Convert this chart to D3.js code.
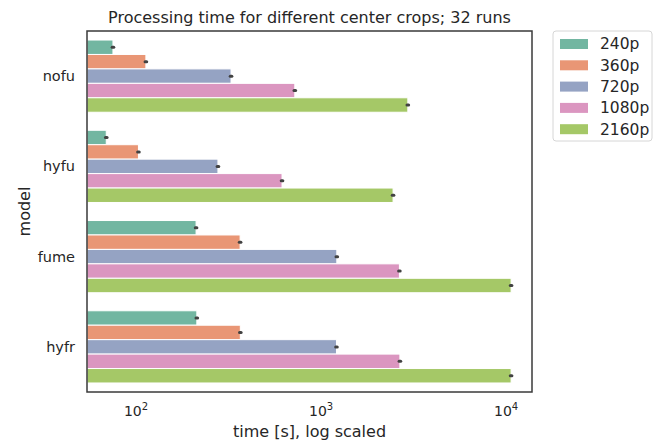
<!DOCTYPE html>
<html>
<head>
<meta charset="utf-8">
<script src="https://cdn.jsdelivr.net/npm/d3@7"></script>
<style>
  body { margin: 0; background: #fff; }
  text { font-family: "DejaVu Sans", sans-serif; fill: #262626; }
</style>
</head>
<body>
<svg id="chart" width="664" height="441"></svg>
<script>
// categories + series
var models = ["nofu", "hyfu", "fume", "hyfr"];
var crops = ["240p", "360p", "720p", "1080p", "2160p"];
var colors = ["#72b6a1", "#e99675", "#95a3c3", "#db96c0", "#a5c867"];

// mean time [s] per model, one array per crop
var t240  = [75, 69, 211, 213];
var t360  = [113, 103, 365, 366];
var t720  = [326, 277, 1216, 1211];
var t1080 = [721, 615, 2650, 2666];
var t2160 = [2943, 2449, 10640, 10640];
var series = [t240, t360, t720, t1080, t2160];

var xTicks = [100, 1000, 10000];
var xDomain = [54.3, 13800];

var svg = d3.select("#chart");
var margin = {top: 31, right: 132, bottom: 49, left: 87};
var width = 664 - margin.left - margin.right,
    height = 441 - margin.top - margin.bottom;

var x = d3.scaleLog().domain(xDomain).range([0, width]);
var y = d3.scaleBand().domain(models).range([0, height]).paddingInner(0.2).paddingOuter(0.1);
var inner = d3.scaleBand().domain(crops).range([0, y.bandwidth()]);

var g = svg.append("g").attr("transform", "translate(" + margin.left + "," + margin.top + ")");

// bars
crops.forEach(function(c, ci) {
    var vals = series[ci];
    g.selectAll(".bar" + ci)
      .data(models)
      .enter().append("rect")
        .attr("x", 0)
        .attr("y", function(m) { return y(m) + inner(c); })
        .attr("width", function(m, i) { return x(vals[i]); })
        .attr("height", inner.bandwidth())
        .attr("fill", colors[ci])
        .attr("stroke", "#fff")
        .attr("stroke-width", 1);
    // tiny ci bars at the end
    g.selectAll(".err" + ci)
      .data(models)
      .enter().append("line")
        .attr("x1", function(m, i) { return x(vals[i] * 0.99); })
        .attr("x2", function(m, i) { return x(vals[i] * 1.01); })
        .attr("y1", function(m) { return y(m) + inner(c) + inner.bandwidth() / 2; })
        .attr("y2", function(m) { return y(m) + inner(c) + inner.bandwidth() / 2; })
        .attr("stroke", "#424242")
        .attr("stroke-width", 3)
        .attr("stroke-linecap", "round");
});

// frame
g.append("rect")
    .attr("width", width).attr("height", height)
    .attr("fill", "none").attr("stroke", "#3a3a3a").attr("stroke-width", 1.5);

// x tick labels 10^n
var xt = g.append("g").attr("transform", "translate(0," + height + ")");
xTicks.forEach(function(v) {
    var t = xt.append("text")
        .attr("x", x(v)).attr("y", 24)
        .attr("text-anchor", "middle")
        .style("font-size", "14px");
    t.append("tspan").text("10");
    t.append("tspan").attr("dy", -6).style("font-size", "10px").text(Math.round(Math.log10(v)));
});

// y tick labels
models.forEach(function(m) {
    g.append("text")
        .attr("x", -12).attr("y", y(m) + y.bandwidth() / 2)
        .attr("dy", "0.35em")
        .attr("text-anchor", "end")
        .style("font-size", "14.5px")
        .text(m);
});

// axis titles
svg.append("text")
    .attr("x", margin.left + width / 2).attr("y", 437)
    .attr("text-anchor", "middle").style("font-size", "16px")
    .text("time [s], log scaled");
svg.append("text")
    .attr("transform", "translate(30," + (margin.top + height / 2) + ") rotate(-90)")
    .attr("text-anchor", "middle").style("font-size", "16px")
    .text("model");
svg.append("text")
    .attr("x", margin.left + width / 2).attr("y", 23)
    .attr("text-anchor", "middle").style("font-size", "16px")
    .text("Processing time for different center crops; 32 runs");

// legend
var lg = svg.append("g").attr("transform", "translate(553,31)");
lg.append("rect")
    .attr("width", 99).attr("height", 110).attr("rx", 3)
    .attr("fill", "#fff").attr("stroke", "#d6d6d6");
crops.forEach(function(c, i) {
    lg.append("rect")
        .attr("x", 7).attr("y", 8 + i * 21.3)
        .attr("width", 28).attr("height", 10)
        .attr("fill", colors[i]);
    lg.append("text")
        .attr("x", 47).attr("y", 13 + i * 21.3)
        .attr("dy", "0.35em")
        .style("font-size", "15.5px")
        .text(c);
});
</script>
</body>
</html>
